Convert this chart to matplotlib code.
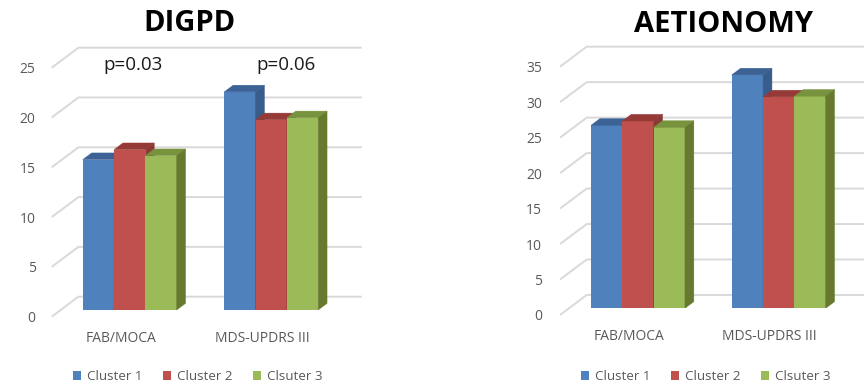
import matplotlib
matplotlib.use("Agg")
import matplotlib.pyplot as plt
from matplotlib.patches import Polygon

plt.rcParams['font.family'] = ['Open Sans', 'DejaVu Sans']

# ---- data ----
categories = ["FAB/MOCA", "MDS-UPDRS III"]
series_names = ["Cluster 1", "Cluster 2", "Clsuter 3"]
digpd_cluster1 = [15.1, 21.9]
digpd_cluster2 = [16.1, 19.1]
digpd_cluster3 = [15.5, 19.3]
aetionomy_cluster1 = [25.8, 32.9]
aetionomy_cluster2 = [26.4, 29.8]
aetionomy_cluster3 = [25.5, 29.9]
digpd_ticks = [0, 5, 10, 15, 20, 25]
aetionomy_ticks = [0, 5, 10, 15, 20, 25, 30, 35]
p_labels = ["p=0.03", "p=0.06"]

# ---- style ----
front_colors = ['#4F81BD', '#C0504D', '#9BBB59']
top_colors = ['#3C6296', '#953A37', '#77933E']
side_colors = ['#385D8A', '#8C3836', '#66792F']
grid_color = '#D9D9D9'
label_color = '#595959'

W, H = 864, 382
DEPTH = (26.7, 20.0)  # floor depth in pixels (right, up)

fig = plt.figure(figsize=(W / 100, H / 100), dpi=100)


def panel(title, title_xy, series, ticks, x0, ppx, xlim, ybase, ppy, ylim,
          tick_gap, legend_cx, plabels=None, plabel_pos=None):
    left = x0 + xlim[0] * ppx
    width = (xlim[1] - xlim[0]) * ppx
    height = (ylim[1] - ylim[0]) * ppy
    ax = fig.add_axes([left / W, (H - ybase) / H, width / W, height / H])
    ax.set_xlim(xlim)
    ax.set_ylim(ylim)
    ax.axis('off')

    # one third of the floor depth, in data units
    ddx = DEPTH[0] / 3 / ppx
    ddy = DEPTH[1] / 3 / ppy
    xw, xe = xlim

    # side wall + back wall gridlines
    for t in ticks:
        ax.plot([xw - ddx, xw + 2 * ddx, xe + 2 * ddx],
                [t - ddy, t + 2 * ddy, t + 2 * ddy],
                color=grid_color, lw=1.4, clip_on=False, zorder=1,
                solid_capstyle='butt')
        ax.annotate(str(t), xy=(xw - ddx, t - ddy), xytext=(-tick_gap, 0),
                    textcoords='offset pixels', ha='right',
                    va='center_baseline', fontsize=10, color=label_color,
                    annotation_clip=False)

    # 3D-looking columns
    w = 31.3 / ppx
    handles = []
    for j, vals in enumerate(series):
        xs = [i + (j - 1.5) * w for i in range(len(categories))]
        bars = ax.bar(xs, vals, w, align='edge', color=front_colors[j],
                      linewidth=0, zorder=10 + 3 * j, label=series_names[j])
        handles.append(bars)
        for x, v in zip(xs, vals):
            top = Polygon([(x, v), (x + w, v), (x + w + ddx, v + ddy),
                           (x + ddx, v + ddy)], closed=True,
                          facecolor=top_colors[j], edgecolor=top_colors[j],
                          lw=0.3, zorder=11 + 3 * j)
            side = Polygon([(x + w, 0), (x + w, v), (x + w + ddx, v + ddy),
                            (x + w + ddx, ddy)], closed=True,
                           facecolor=side_colors[j], edgecolor=side_colors[j],
                           lw=0.3, zorder=11 + 3 * j)
            ax.add_patch(top)
            ax.add_patch(side)

    # category labels along the front edge of the floor
    for i, c in enumerate(categories):
        ax.annotate(c, xy=(i - ddx, -ddy), xytext=(0, -20),
                    textcoords='offset pixels', ha='center',
                    va='center_baseline', fontsize=10, color=label_color,
                    annotation_clip=False)

    if plabels:
        for lab, (px, py) in zip(plabels, plabel_pos):
            ax.text(px, py, lab, ha='center', va='baseline', fontsize=13.5,
                    color='#1a1a1a', clip_on=False)

    fig.text(title_xy[0] / W, 1 - title_xy[1] / H, title, ha='center',
             va='baseline', fontsize=21, fontweight='bold', color='black')

    ax.legend(handles=handles, loc='center',
              bbox_to_anchor=(legend_cx / W, 1 - 376.5 / H),
              bbox_transform=fig.transFigure, ncol=3, frameon=False,
              handlelength=0.6, handleheight=0.6, handletextpad=0.45,
              columnspacing=1.55, fontsize=9.6, labelcolor=label_color,
              borderpad=0)
    return ax


panel("DIGPD", (190, 31.0),
      [digpd_cluster1, digpd_cluster2, digpd_cluster3], digpd_ticks,
      x0=129.7, ppx=141.5, xlim=(-0.488, 1.514),
      ybase=310, ppy=9.96, ylim=(0, 25), tick_gap=16, legend_cx=198,
      plabels=p_labels, plabel_pos=[(0.02, 24.05), (1.105, 24.05)])

panel("AETIONOMY", (724, 32.5),
      [aetionomy_cluster1, aetionomy_cluster2, aetionomy_cluster3],
      aetionomy_ticks,
      x0=638, ppx=140.7, xlim=(-0.491, 1.5),
      ybase=308.3, ppy=7.094, ylim=(0, 35), tick_gap=18, legend_cx=706)

fig.savefig("out.png", dpi=100)
